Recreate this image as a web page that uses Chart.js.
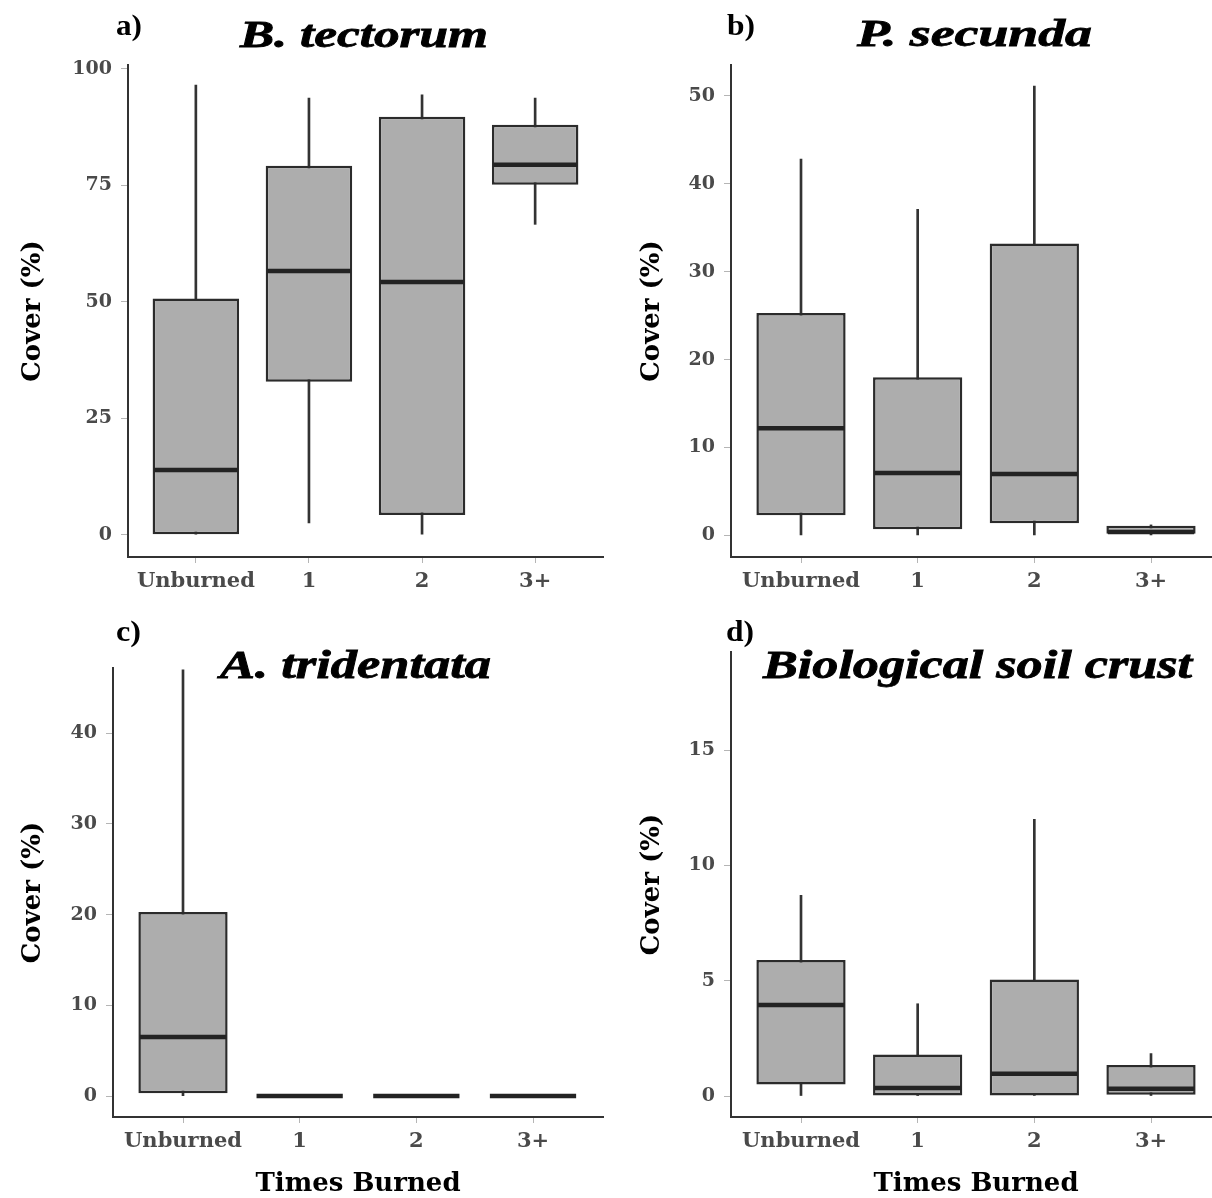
<!DOCTYPE html>
<html><head><meta charset="utf-8">
<script src="https://cdn.jsdelivr.net/npm/chart.js@4.4.1/dist/chart.umd.min.js"></script>
<style>
html,body{margin:0;padding:0;background:#fff;overflow:hidden;width:1212px;height:1198px;position:relative;}
.p{position:absolute;}
</style></head><body>
<div class="p" style="left:0;top:0;width:606px;height:600px"><canvas id="ca"></canvas></div>
<div class="p" style="left:606px;top:0;width:620px;height:600px"><canvas id="cb"></canvas></div>
<div class="p" style="left:0;top:600px;width:606px;height:598px"><canvas id="cc"></canvas></div>
<div class="p" style="left:606px;top:600px;width:620px;height:598px"><canvas id="cd"></canvas></div>
<script>
// ---- data ----
const categories = ['Unburned', '1', '2', '3+'];

const tectorumMin = [0, 2.5, 0, 66.6];
const tectorumQ1  = [0, 32.8, 4.2, 75.1];
const tectorumMed = [13.9, 56.6, 54.2, 79.4];
const tectorumQ3  = [50.7, 79.2, 89.7, 88.0];
const tectorumMax = [96.5, 93.7, 94.4, 93.7];
const tectorumTicks = [0, 25, 50, 75, 100];

const secundaMin = [0, 0, 0, 0];
const secundaQ1  = [2.3, 0.7, 1.4, 0.2];
const secundaMed = [12.2, 7.1, 7.0, 0.4];
const secundaQ3  = [25.3, 18.0, 33.2, 1.1];
const secundaMax = [42.8, 37.1, 51.1, 1.2];
const secundaTicks = [0, 10, 20, 30, 40, 50];

const tridentataMin = [0, 0, 0, 0];
const tridentataQ1  = [0.3, 0, 0, 0];
const tridentataMed = [6.5, 0, 0, 0];
const tridentataQ3  = [20.3, 0, 0, 0];
const tridentataMax = [47.0, 0, 0, 0];
const tridentataTicks = [0, 10, 20, 30, 40];

const crustMin = [0, 0, 0, 0];
const crustQ1  = [0.5, 0, 0, 0.05];
const crustMed = [3.95, 0.35, 0.96, 0.31];
const crustQ3  = [5.9, 1.8, 5.05, 1.34];
const crustMax = [8.7, 4.0, 12.0, 1.84];
const crustTicks = [0, 5, 10, 15];

const yTitle = 'Cover (%)';
const xTitle = 'Times Burned';

// ---- styles ----
const BOXW = 0.765;
const yTickFont = {family: 'DejaVu Serif', weight: 'bold', size: 19};
const xTickFont = {family: 'DejaVu Serif', weight: 'bold', size: 21};
const tickColor = '#4a4a4a';

function textPlugin(items) {
  return {
    id: 'panelText',
    afterDraw(chart) {
      const ctx = chart.ctx;
      for (const t of items) {
        ctx.save();
        ctx.font = t.font;
        ctx.fillStyle = '#000';
        ctx.strokeStyle = '#000';
        ctx.textBaseline = 'alphabetic';
        ctx.textAlign = 'left';
        const w = ctx.measureText(t.text).width;
        ctx.translate(t.x, t.y);
        ctx.scale(t.width ? t.width / w : 1, 1);
        ctx.fillText(t.text, 0, 0);
        if (t.stroke) { ctx.lineWidth = t.stroke; ctx.strokeText(t.text, 0, 0); }
        ctx.restore();
      }
    }
  };
}

function makePanel(id, d, cfg) {
  const whisk = categories.map((c, i) => ({x: i, y: [d.min[i], d.max[i]]}));
  const box = categories.map((c, i) => ({x: i, y: [d.q1[i], d.q3[i]]}));
  const med = categories.map((c, i) => ({x: i, y: d.med[i]}));
  new Chart(document.getElementById(id), {
    type: 'bar',
    data: {
      datasets: [
        {type: 'bar', label: 'whisker', data: whisk, backgroundColor: '#333333', borderWidth: 0,
         barThickness: 2, grouped: false, order: 3},
        {type: 'bar', label: 'box', data: box, backgroundColor: '#adadad', borderColor: '#2b2b2b',
         borderWidth: 2.5, borderSkipped: false, barPercentage: BOXW, categoryPercentage: 1, grouped: false, order: 2},
        {type: 'line', label: 'median', data: med, showLine: false, pointStyle: 'line',
         pointRadius: (ctx) => { const s = ctx.chart.scales.x; return (s.getPixelForValue(1) - s.getPixelForValue(0)) * BOXW / 2 - 1.5; },
         pointBorderColor: '#232323', pointBorderWidth: 4.5, pointBackgroundColor: '#232323', order: 1}
      ]
    },
    options: {
      responsive: true, maintainAspectRatio: false, animation: false, events: [],
      layout: {padding: {top: cfg.top, right: cfg.right, left: 0, bottom: 0}},
      plugins: {legend: {display: false}, tooltip: {enabled: false}, title: {display: false}},
      scales: {
        x: {
          type: 'linear', min: -0.6, max: 3.6, offset: false,
          afterBuildTicks: (s) => { s.ticks = categories.map((c, i) => ({value: i})); },
          afterFit: (s) => { s.height = cfg.xh; },
          ticks: {callback: (v) => categories[v], font: xTickFont, color: tickColor, padding: 6, autoSkip: false, maxRotation: 0},
          grid: {display: true, offset: false, drawOnChartArea: false, drawTicks: true, tickLength: 6, color: '#b5b5b5', lineWidth: 1},
          border: {display: true, color: '#333333', width: 2},
          title: {display: cfg.xTitle, text: xTitle, color: '#000',
                  font: {family: 'DejaVu Serif', weight: 'bold', size: 26, lineHeight: 1}, padding: {top: 0, bottom: 1}}
        },
        y: {
          type: 'linear', min: cfg.ymin, max: cfg.ymax,
          afterBuildTicks: (s) => { s.ticks = d.ticks.map((v) => ({value: v})); },
          afterFit: (s) => { s.width = cfg.yw; },
          ticks: {font: yTickFont, color: tickColor, padding: 9},
          grid: {display: true, drawOnChartArea: false, drawTicks: true, tickLength: 7, color: '#b5b5b5', lineWidth: 1},
          border: {display: true, color: '#333333', width: 2},
          title: {display: true, text: yTitle, color: '#000',
                  font: {family: 'DejaVu Serif', weight: 'bold', size: 26, lineHeight: 1}, padding: {top: cfg.ytp, bottom: 0}}
        }
      }
    },
    plugins: [textPlugin(cfg.texts)]
  });
}

const lblFont = 'bold 30px "Liberation Serif"';
const ttlFont = 'italic bold 37px "Liberation Serif"';
const ttlFont2 = 'italic bold 39px "Liberation Serif"';

makePanel('ca',
  {min: tectorumMin, q1: tectorumQ1, med: tectorumMed, q3: tectorumQ3, max: tectorumMax, ticks: tectorumTicks},
  {top: 65, right: 3, xh: 43, yw: 128, ymin: -4.8, ymax: 100.8, ytp: 20, xTitle: false,
   texts: [{text: 'a)', x: 116, y: 35, width: 26, font: lblFont},
           {text: 'B. tectorum', x: 240, y: 47, width: 248, font: ttlFont, stroke: 0.8}]});

makePanel('cb',
  {min: secundaMin, q1: secundaQ1, med: secundaMed, q3: secundaQ3, max: secundaMax, ticks: secundaTicks},
  {top: 65, right: 5, xh: 43, yw: 125, ymin: -2.45, ymax: 53.5, ytp: 33, xTitle: false,
   texts: [{text: 'b)', x: 121, y: 35, width: 28, font: lblFont},
           {text: 'P. secunda', x: 251, y: 46, width: 235, font: ttlFont, stroke: 0.8}]});

makePanel('cc',
  {min: tridentataMin, q1: tridentataQ1, med: tridentataMed, q3: tridentataQ3, max: tridentataMax, ticks: tridentataTicks},
  {top: 68, right: 3, xh: 81, yw: 113, ymin: -2.31, ymax: 47.2, ytp: 20, xTitle: true,
   texts: [{text: 'c)', x: 116, y: 41, width: 25, font: lblFont},
           {text: 'A. tridentata', x: 220, y: 78, width: 271, font: ttlFont2, stroke: 0.8}]});

makePanel('cd',
  {min: crustMin, q1: crustQ1, med: crustMed, q3: crustQ3, max: crustMax, ticks: crustTicks},
  {top: 52, right: 5, xh: 81, yw: 125, ymin: -0.91, ymax: 19.25, ytp: 33, xTitle: true,
   texts: [{text: 'd)', x: 120, y: 41, width: 28, font: lblFont},
           {text: 'Biological soil crust', x: 157, y: 78, width: 429, font: ttlFont2, stroke: 0.8}]});
</script>
</body></html>
